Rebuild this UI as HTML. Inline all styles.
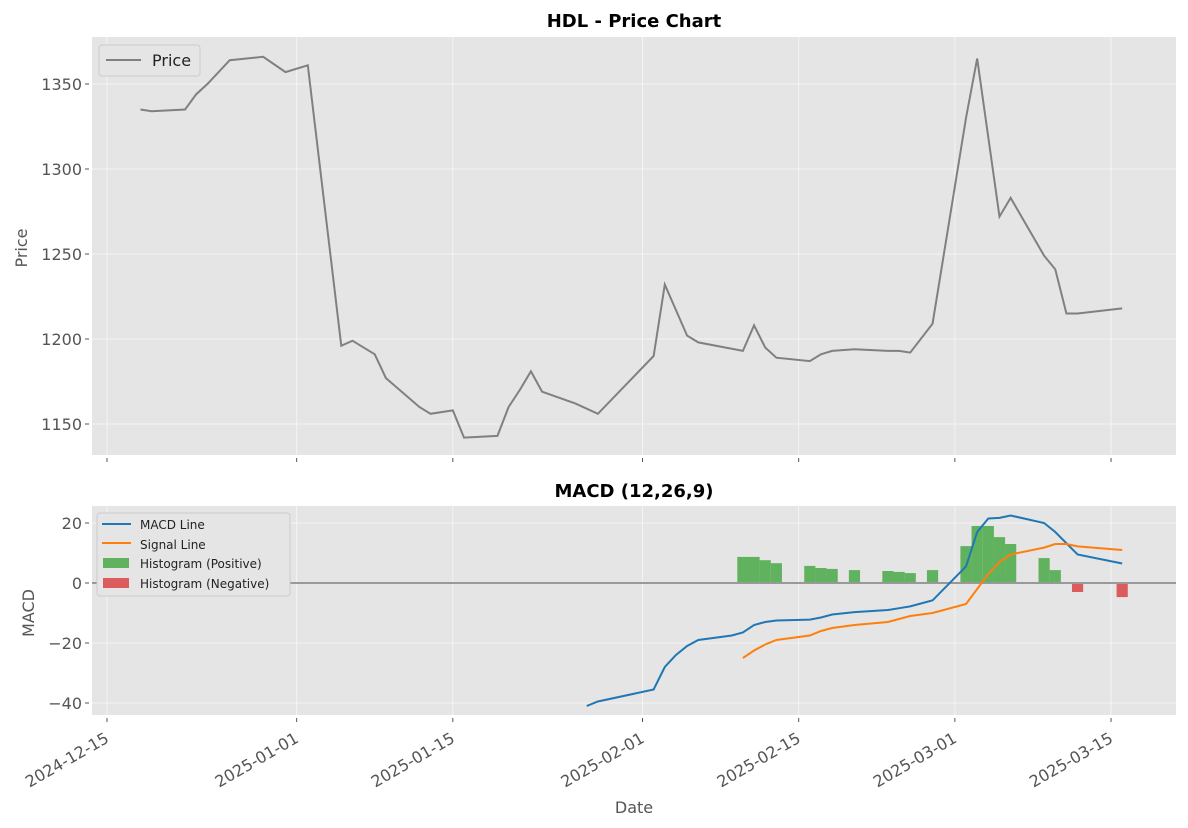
<!DOCTYPE html>
<html><head><meta charset="utf-8"><style>
body{margin:0;background:#fff;}
svg{display:block;font-family:"DejaVu Sans","Liberation Sans",sans-serif;}
</style></head><body>
<svg id="chart" width="1188" height="828" viewBox="0 0 1188 828"></svg>
<script>
// ---- data ----
const priceDays = [3,4,7,8,9,11,14,16,18,21,22,24,25,28,29,31,32,35,36,37,38,39,42,44,49,50,52,53,57,58,59,60,63,64,65,67,70,71,72,74,77,78,80,81,84,85,86,87,91];
const priceValues = [1335,1334,1335,1344,1350,1364,1366,1357,1361,1196,1199,1191,1177,1160,1156,1158,1142,1143,1160,1170,1181,1169,1162,1156,1190,1232,1202,1198,1193,1208,1195,1189,1187,1191,1193,1194,1193,1193,1192,1209,1330,1365,1272,1283,1249,1241,1215,1215,1218];
const macdDays = [43,44,49,50,51,52,53,56,57,58,59,60,63,64,65,67,70,71,72,74,77,78,79,80,81,84,85,87,91];
const macdValues = [-41,-39.5,-35.5,-28,-24,-21,-19,-17.5,-16.5,-14,-13,-12.5,-12.2,-11.5,-10.5,-9.7,-9,-8.4,-7.8,-5.8,5.5,17,21.5,21.7,22.5,20,17,9.5,6.5];
const signalDays = [57,58,59,60,63,64,65,67,70,71,72,74,77,78,79,80,81,84,85,86,87,91];
const signalValues = [-25,-22.5,-20.5,-19,-17.5,-16,-15,-14,-13,-12,-11,-10,-7,-2,3,7,9.5,11.8,13,13,12.2,11];
const histDays = [57,58,59,60,63,64,65,67,70,71,72,74,77,78,79,80,81,84,85,87,91];
const histValues = [8.7,8.7,7.6,6.6,5.7,5,4.7,4.3,4,3.7,3.3,4.3,12.3,19,19,15.3,13,8.3,4.3,-3,-4.7];
const priceTicks = [1150,1200,1250,1300,1350];
const macdTicks = [-40,-20,0,20];
const dateTickDays = [0,17,31,48,62,76,90];
const dateTickLabels = ["2024-12-15","2025-01-01","2025-01-15","2025-02-01","2025-02-15","2025-03-01","2025-03-15"];

const NS="http://www.w3.org/2000/svg";
const svg=document.getElementById('chart');
function mk(tag,attrs,parent){const e=document.createElementNS(NS,tag);for(const k in attrs)e.setAttribute(k,attrs[k]);(parent||svg).appendChild(e);return e;}
const X0=92,X1=1176;
const xDay=d=>107+d*11.156;
const yP=v=>424-(v-1150)*1.7;
const yM=v=>583-v*3.0;

function panel(top,bottom,name){
  const r=mk('rect',{x:X0,y:top,width:X1-X0,height:bottom-top,fill:'#e5e5e5'});
  
  
  dateTickDays.forEach(d=>{
    mk('line',{x1:xDay(d),x2:xDay(d),y1:top,y2:bottom,stroke:'#fff','stroke-width':0.8,'stroke-opacity':0.7});
    const t=mk('line',{x1:xDay(d),x2:xDay(d),y1:bottom+3,y2:bottom+7,stroke:'#555','stroke-width':1});
    
    
  });
}
// top panel
panel(37,455,'price-plot-area');
priceTicks.forEach(v=>{
  mk('line',{x1:X0,x2:X1,y1:yP(v),y2:yP(v),stroke:'#fff','stroke-width':0.8,'stroke-opacity':0.7});
  mk('line',{x1:X0-7,x2:X0-3,y1:yP(v),y2:yP(v),stroke:'#555'});
  const t=mk('text',{x:X0-10,y:yP(v)+6,'text-anchor':'end','font-size':16,fill:'#555'});
  t.textContent=v;
  
  
});
let pp=priceDays.map((d,i)=>xDay(d)+','+yP(priceValues[i])).join(' ');
const pl=mk('polyline',{points:pp,fill:'none',stroke:'#808080','stroke-width':2});


let t=mk('text',{x:634,y:27,'text-anchor':'middle','font-size':18,'font-weight':'bold',fill:'#000'});
t.textContent='HDL - Price Chart';


t=mk('text',{x:27,y:248,'text-anchor':'middle','font-size':16,fill:'#555',transform:'rotate(-90 27 248)'});
t.textContent='Price';


const lg1=mk('g',{});


mk('rect',{x:99,y:45,width:101,height:31,rx:3,fill:'#e5e5e5',stroke:'#ccc'},lg1);
mk('line',{x1:106,x2:141,y1:60,y2:60,stroke:'#808080','stroke-width':2},lg1);
t=mk('text',{x:152,y:66,'font-size':16,fill:'#222'},lg1);t.textContent='Price';

// bottom panel
panel(506,715,'macd-plot-area');
macdTicks.forEach(v=>{
  mk('line',{x1:X0,x2:X1,y1:yM(v),y2:yM(v),stroke:'#fff','stroke-width':0.8,'stroke-opacity':0.7});
  mk('line',{x1:X0-7,x2:X0-3,y1:yM(v),y2:yM(v),stroke:'#555'});
  const tt=mk('text',{x:X0-10,y:yM(v)+6,'text-anchor':'end','font-size':16,fill:'#555'});
  tt.textContent=v<0?'\u2212'+Math.abs(v):v;
  
  
});
histDays.forEach((d,i)=>{
  const v=histValues[i];
  const b=mk('rect',{x:xDay(d)-5.6,width:11.2,y:v>=0?yM(v):yM(0),height:Math.abs(yM(v)-yM(0)),fill:v>=0?'#61b25f':'#dc5c5e'});
  
  
});
mk('line',{x1:X0,x2:X1,y1:yM(0),y2:yM(0),stroke:'#999','stroke-width':2});
let ml=mk('polyline',{points:macdDays.map((d,i)=>xDay(d)+','+yM(macdValues[i])).join(' '),fill:'none',stroke:'#1f77b4','stroke-width':2});


let sl=mk('polyline',{points:signalDays.map((d,i)=>xDay(d)+','+yM(signalValues[i])).join(' '),fill:'none',stroke:'#ff7f0e','stroke-width':2});


t=mk('text',{x:634,y:497,'text-anchor':'middle','font-size':18,'font-weight':'bold',fill:'#000'});
t.textContent='MACD (12,26,9)';


t=mk('text',{x:34,y:613,'text-anchor':'middle','font-size':16,fill:'#555',transform:'rotate(-90 34 613)'});
t.textContent='MACD';


dateTickDays.forEach((d,i)=>{
  const x=xDay(d)-3,y=731;
  const tt=mk('text',{x:x,y:y,'text-anchor':'end','dominant-baseline':'hanging','font-size':16,fill:'#555',transform:`rotate(-30 ${x} ${y})`});
  tt.textContent=dateTickLabels[i];
  
  
});
t=mk('text',{x:634,y:813,'text-anchor':'middle','font-size':16,fill:'#555'});
t.textContent='Date';


const lg2=mk('g',{});


mk('rect',{x:97,y:513,width:193,height:83,rx:3,fill:'#e5e5e5',stroke:'#ccc'},lg2);
mk('line',{x1:102,x2:131,y1:524,y2:524,stroke:'#1f77b4','stroke-width':2},lg2);
mk('line',{x1:102,x2:131,y1:543,y2:543,stroke:'#ff7f0e','stroke-width':2},lg2);
mk('rect',{x:103,y:558,width:26,height:10,fill:'#61b25f'},lg2);
mk('rect',{x:103,y:578,width:26,height:10,fill:'#dc5c5e'},lg2);
[['MACD Line',529],['Signal Line',549],['Histogram (Positive)',568],['Histogram (Negative)',588]].forEach(([s,y])=>{
  const tt=mk('text',{x:140,y:y,'font-size':12,fill:'#222'},lg2);tt.textContent=s;
});
</script>
</body></html>
